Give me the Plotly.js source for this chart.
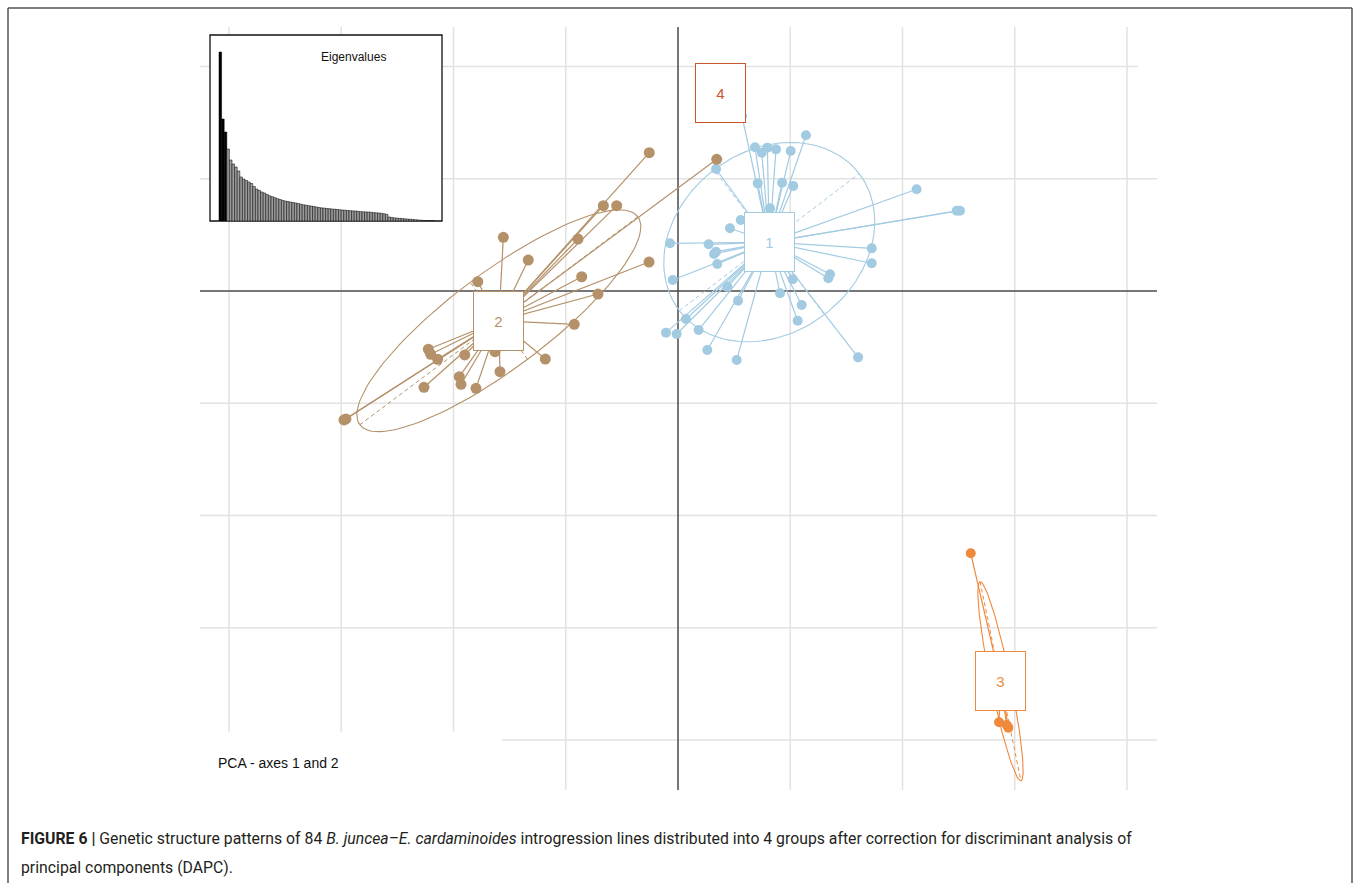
<!DOCTYPE html>
<html><head><meta charset="utf-8">
<script src="https://cdn.plot.ly/plotly-3.0.1.min.js"></script>
<style>html,body{margin:0;padding:0;background:#fff;overflow:hidden}#chart{width:1357px;height:883px}</style>
</head><body><div id="chart"></div>
<script>
// ---------------- DATA ----------------
const groupNames = ["1", "2", "3", "4"];
const groupColors = ["#a2cbe2", "#b49169", "#ef893c", "#c8562c"];

// group 1 individuals (discriminant axes 1 and 2)
const g1x = [0.686,0.746,0.796,0.873,1.004,1.140,0.339,0.710,0.927,1.027,0.820,0.559,0.463,-0.071,0.273,0.339,0.321,0.350,-0.047,0.439,0.535,0.909,1.022,1.102,1.066,1.354,1.339,1.726,1.726,2.126,2.483,2.512,0.071,-0.107,-0.012,0.184,0.261,0.523,1.604,0.570];
const g1y = [1.280,1.232,1.277,1.262,1.247,1.387,1.087,0.959,0.965,0.935,0.737,0.633,0.559,0.425,0.416,0.350,0.330,0.241,0.098,0.038,-0.086,-0.020,0.104,-0.125,-0.265,0.149,0.113,0.380,0.247,0.906,0.715,0.715,-0.249,-0.371,-0.383,-0.347,-0.526,-0.615,-0.591,1.559];
// group 2
const g2x = [-0.256,-0.665,-0.546,-0.891,-1.556,-1.334,-1.784,-0.858,-0.258,-0.713,-0.924,-1.182,-1.586,-1.630,-1.800,-1.933,-1.948,-1.900,-2.224,-2.203,-2.141,-2.263,-2.976,-2.958,0.345];
const g2y = [1.232,0.760,0.760,0.463,0.478,0.276,0.083,0.127,0.258,-0.027,-0.297,-0.606,-0.719,-0.541,-0.867,-0.831,-0.763,-0.570,-0.519,-0.564,-0.608,-0.858,-1.149,-1.140,1.173];
// group 3
const g3x = [2.608,2.860,2.943,2.928];
const g3y = [-2.337,-3.842,-3.890,-3.866];
// group 4
const g4x = [0.381];
const g4y = [1.761];

// group centroids (label positions)
const centX = [0.813,-1.596,2.873,0.381];
const centY = [0.435,-0.265,-3.477,1.761];

// inertia ellipses: semi-axes and orientation (degrees)
const ellA = [1.007,1.547,0.905];
const ellB = [0.811,0.428,0.089];
const ellAngle = [37.3,36.8,-78.4];

// grid ticks
const xTicks = [-4,-3,-2,-1,1,2,3,4];
const yTicks = [2,1,-1,-2,-3,-4];

// eigenvalues (inset)
const eigenvalues = [169,102,89,72,61,57,54,50,44,42,40.5,39,37.5,34.5,32,30.5,29,28,26.5,25.2,24.3,23.3,22.3,21.5,20.6,20,19.5,19,18.5,18,17.5,16.8,16.2,15.8,15.3,15,14.5,14,13.5,13.1,12.9,12.5,12.3,12,11.8,11.5,11.2,11,10.8,10.5,10.3,10.1,10,9.7,9.4,9.2,9.1,9,8.7,8.4,8.2,8,7.7,7.2,6.7,4,3.5,3.1,2.9,2.7,2.5,2.2,2,1.8,1.5,1.3,1.1,0.8,0.7,0.5,0.4,0.3,0.2];
const nRetained = 3;

// ---------------- LAYOUT GEOMETRY ----------------
const W = 1357, H = 883;
const U = 112.25, X0 = 678, Y0 = 291;          // pixels per unit, origin pixel
const pxX = v => X0 + v * U, pxY = v => Y0 - v * U;
const pX = px => px / W, pY = py => 1 - py / H;

const groupsX = [g1x, g2x, g3x, g4x];
const groupsY = [g1y, g2y, g3y, g4y];

const traces = [];
// star lines
for (let g = 0; g < 4; g++) {
  const lx = [], ly = [];
  groupsX[g].forEach((v, i) => { lx.push(centX[g], v, null); ly.push(centY[g], groupsY[g][i], null); });
  traces.push({x: lx, y: ly, mode: 'lines', type: 'scatter', hoverinfo: 'skip',
    line: {color: groupColors[g], width: 1.2}, showlegend: false});
}
// ellipses + axes
for (let g = 0; g < 3; g++) {
  const t = ellAngle[g] * Math.PI / 180, c = Math.cos(t), s = Math.sin(t);
  const ex = [], ey = [];
  for (let k = 0; k <= 120; k++) {
    const th = 2 * Math.PI * k / 120;
    const u = ellA[g] * Math.cos(th), w = ellB[g] * Math.sin(th);
    ex.push(centX[g] + u * c - w * s); ey.push(centY[g] + u * s + w * c);
  }
  traces.push({x: ex, y: ey, mode: 'lines', type: 'scatter', hoverinfo: 'skip',
    line: {color: groupColors[g], width: 1.1}, showlegend: false});
  traces.push({
    x: [centX[g] - ellA[g]*c, centX[g] + ellA[g]*c, null, centX[g] + ellB[g]*s, centX[g] - ellB[g]*s],
    y: [centY[g] - ellA[g]*s, centY[g] + ellA[g]*s, null, centY[g] - ellB[g]*c, centY[g] + ellB[g]*c],
    mode: 'lines', type: 'scatter', hoverinfo: 'skip',
    line: {color: groupColors[g], width: 1, dash: '4px,3px'}, showlegend: false});
}
// points
const ptSize = [10, 11, 10, 10];
for (let g = 0; g < 4; g++) {
  traces.push({x: groupsX[g], y: groupsY[g], mode: 'markers', type: 'scatter', name: groupNames[g],
    marker: {color: groupColors[g], size: ptSize[g], line: {width: 0}}, showlegend: false});
}
// inset eigenvalue bars
traces.push({type: 'bar', x: eigenvalues.map((v, i) => i + 1), y: eigenvalues, xaxis: 'x2', yaxis: 'y2',
  marker: {color: eigenvalues.map((v, i) => i < nRetained ? '#000000' : '#9c9c9c'), line: {color: '#000', width: 0.5}},
  hoverinfo: 'skip', showlegend: false});

// shapes
const shapes = [];
const gridColor = '#e2e2e2';
xTicks.forEach(t => shapes.push({type: 'line', xref: 'paper', yref: 'paper', layer: 'below',
  x0: pX(pxX(t)), x1: pX(pxX(t)), y0: pY(27), y1: pY(790), line: {color: gridColor, width: 1.5}}));
yTicks.forEach(t => shapes.push({type: 'line', xref: 'paper', yref: 'paper', layer: 'below',
  x0: pX(200), x1: pX(t === 2 ? 1138 : 1157), y0: pY(pxY(t)), y1: pY(pxY(t)), line: {color: gridColor, width: 1.5}}));
// white patch behind the "PCA" label
shapes.push({type: 'rect', xref: 'paper', yref: 'paper', layer: 'below',
  x0: pX(199), x1: pX(502), y0: pY(732), y1: pY(795), fillcolor: '#fff', line: {width: 0}});
// axes through origin
shapes.push({type: 'line', xref: 'paper', yref: 'paper', layer: 'below',
  x0: pX(200), x1: pX(1157), y0: pY(pxY(0)), y1: pY(pxY(0)), line: {color: '#4a4a4a', width: 1.5}});
shapes.push({type: 'line', xref: 'paper', yref: 'paper', layer: 'below',
  x0: pX(pxX(0)), x1: pX(pxX(0)), y0: pY(27), y1: pY(790), line: {color: '#4a4a4a', width: 1.5}});
// inset frame
shapes.push({type: 'rect', xref: 'paper', yref: 'paper', layer: 'below',
  x0: pX(210), x1: pX(442), y0: pY(221), y1: pY(35), fillcolor: '#fff', line: {color: '#111', width: 1.3}});
// figure frame
shapes.push({type: 'line', xref: 'paper', yref: 'paper', x0: pX(8), x1: pX(1352), y0: pY(8), y1: pY(8), line: {color: '#555', width: 1.5}});
shapes.push({type: 'line', xref: 'paper', yref: 'paper', x0: pX(8), x1: pX(8), y0: pY(8), y1: 0, line: {color: '#555', width: 1.5}});
shapes.push({type: 'line', xref: 'paper', yref: 'paper', x0: pX(1352), x1: pX(1352), y0: pY(8), y1: 0, line: {color: '#555', width: 1.5}});

// annotations
const font = 'Liberation Sans, Arial, sans-serif';
const annotations = [];
for (let g = 0; g < 4; g++) {
  annotations.push({x: centX[g], y: centY[g], xref: 'x', yref: 'y', text: groupNames[g], showarrow: false,
    bgcolor: '#fff', bordercolor: groupColors[g], borderwidth: 1, borderpad: 0, width: 49, height: 58,
    valign: 'middle', align: 'center', font: {family: font, size: 15, color: groupColors[g]}});
}
annotations.push({xref: 'paper', yref: 'paper', x: pX(353), y: pY(57), text: 'Eigenvalues', showarrow: false,
  xanchor: 'center', yanchor: 'middle', font: {family: font, size: 12, color: '#111'}});
annotations.push({xref: 'paper', yref: 'paper', x: pX(216), y: pY(763), text: 'PCA - axes 1 and 2', showarrow: false,
  xanchor: 'left', yanchor: 'middle', font: {family: font, size: 14, color: '#111'}});
const capFont = 'Liberation Sans Narrow, Roboto, Liberation Sans, sans-serif';
annotations.push({xref: 'paper', yref: 'paper', x: pX(19), y: pY(838), showarrow: false, xanchor: 'left', yanchor: 'middle',
  text: '<b>FIGURE 6 |</b> Genetic structure patterns of 84 <i>B. juncea–E. cardaminoides</i> introgression lines distributed into 4 groups after correction for discriminant analysis of',
  font: {family: capFont, size: 15.8, color: '#231f20'}});
annotations.push({xref: 'paper', yref: 'paper', x: pX(19), y: pY(867), showarrow: false, xanchor: 'left', yanchor: 'middle',
  text: 'principal components (DAPC).', font: {family: capFont, size: 15.8, color: '#231f20'}});

const layout = {
  width: W, height: H, margin: {l: 0, r: 0, t: 0, b: 0, pad: 0},
  paper_bgcolor: '#fff', plot_bgcolor: 'rgba(0,0,0,0)', showlegend: false, bargap: 0,
  xaxis: {domain: [0, 1], range: [(0 - X0) / U, (W - X0) / U], visible: false, fixedrange: true},
  yaxis: {domain: [0, 1], range: [(Y0 - H) / U, Y0 / U], visible: false, fixedrange: true},
  xaxis2: {domain: [pX(210), pX(442)], range: [(210 - 219) / 2.6 + 0.5, (442 - 219) / 2.6 + 0.5], anchor: 'y2', visible: false},
  yaxis2: {domain: [pY(221), pY(35)], range: [0, 186], anchor: 'x2', visible: false},
  shapes: shapes, annotations: annotations
};
Plotly.newPlot('chart', traces, layout, {staticPlot: true, displayModeBar: false});
</script></body></html>
